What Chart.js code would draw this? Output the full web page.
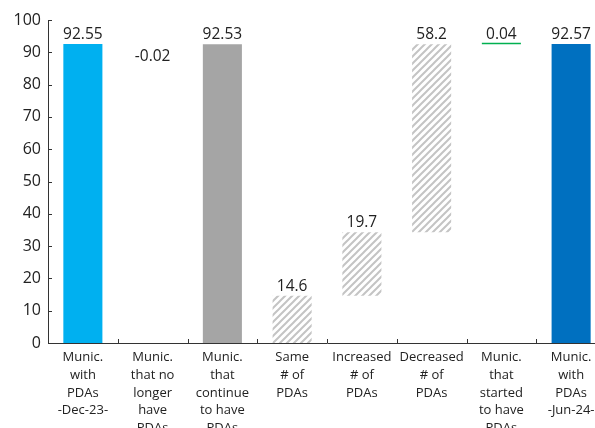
<!DOCTYPE html>
<html>
<head>
<meta charset="utf-8">
<script src="https://cdn.jsdelivr.net/npm/chart.js@4/dist/chart.umd.min.js"></script>
<style>
  html, body { margin: 0; padding: 0; background: #fff; width: 595px; height: 428px; overflow: hidden; }
  #wrap { position: absolute; left: 0; top: 0; width: 610px; height: 460px; }
</style>
</head>
<body>
<div id="wrap"><canvas id="c" width="610" height="460"></canvas></div>
<script>
// Waterfall of municipalities with PDAs (%), Dec-23 to Jun-24
const categories = [
  ["Munic.", "with", "PDAs", "-Dec-23-"],
  ["Munic.", "that no", "longer", "have", "PDAs"],
  ["Munic.", "that", "continue", "to have", "PDAs"],
  ["Same", "# of", "PDAs"],
  ["Increased", "# of", "PDAs"],
  ["Decreased", "# of", "PDAs"],
  ["Munic.", "that", "started", "to have", "PDAs"],
  ["Munic.", "with", "PDAs", "-Jun-24-"]
];
// change (or total) shown by each bar
const values = [92.55, -0.02, 92.53, 14.6, 19.7, 58.2, 0.04, 92.57];
// level each bar starts from
const bases = [0, 92.55, 0, 0, 14.6, 34.3, 92.53, 0];
const yTicks = [0, 10, 20, 30, 40, 50, 60, 70, 80, 90, 100];

function hatchPattern() {
  const s = 7;
  const c = document.createElement('canvas');
  c.width = s; c.height = s;
  const g = c.getContext('2d');
  g.fillStyle = '#ffffff';
  g.fillRect(0, 0, s, s);
  g.strokeStyle = '#c4c4c4';
  g.lineWidth = 2;
  g.beginPath();
  g.moveTo(-1, s + 1); g.lineTo(s + 1, -1);
  g.moveTo(-1, 1); g.lineTo(1, -1);
  g.moveTo(s - 1, s + 1); g.lineTo(s + 1, s - 1);
  g.stroke();
  return g.createPattern(c, 'repeat');
}
const hatch = hatchPattern();
const barColors = ['#00B0F0', 'rgba(255,0,0,0)', '#A5A5A5', hatch, hatch, hatch, '#00B050', '#0070C0'];

const TXT = '#222222';
const FONT = '"Open Sans", "Noto Sans", sans-serif';

// value labels above rising bars, below falling ones
const valueLabels = {
  id: 'valueLabels',
  afterDatasetsDraw(chart) {
    const { ctx } = chart;
    const ys = chart.scales.y;
    const meta = chart.getDatasetMeta(0);
    ctx.save();
    ctx.font = '15.5px ' + FONT;
    ctx.fillStyle = TXT;
    ctx.textAlign = 'center';
    ctx.textBaseline = 'alphabetic';
    meta.data.forEach((bar, i) => {
      const v = values[i];
      const hi = ys.getPixelForValue(Math.max(bases[i], bases[i] + v));
      const lo = ys.getPixelForValue(Math.min(bases[i], bases[i] + v));
      if (v >= 0) ctx.fillText(String(v), bar.x, hi - 5);
      else ctx.fillText(String(v), bar.x, lo + 17);
    });
    ctx.restore();
  }
};

// short inward tick marks on both axes
const innerTicks = {
  id: 'innerTicks',
  afterDraw(chart) {
    const { ctx, chartArea } = chart;
    const xs = chart.scales.x, ys = chart.scales.y;
    ctx.save();
    ctx.strokeStyle = '#333';
    ctx.lineWidth = 1;
    ctx.beginPath();
    ys.ticks.forEach(t => {
      const y = Math.round(ys.getPixelForValue(t.value)) + 0.5;
      ctx.moveTo(chartArea.left, y); ctx.lineTo(chartArea.left + 4, y);
    });
    for (let i = 0; i < categories.length - 1; i++) {
      const x = Math.round((xs.getPixelForValue(i) + xs.getPixelForValue(i + 1)) / 2) + 0.5;
      ctx.moveTo(x, chartArea.bottom); ctx.lineTo(x, chartArea.bottom - 4);
    }
    ctx.stroke();
    ctx.restore();
  }
};

new Chart(document.getElementById('c'), {
  type: 'bar',
  data: {
    labels: categories,
    datasets: [{
      data: values.map((v, i) => [bases[i], bases[i] + v]),
      backgroundColor: barColors,
      borderWidth: 0,
      barPercentage: 0.56,
      categoryPercentage: 1.0,
      minBarLength: 1.4
    }]
  },
  options: {
    responsive: false,
    animation: false,
    devicePixelRatio: 1,
    layout: { padding: { top: 20, right: 4, left: 0, bottom: 0 } },
    plugins: { legend: { display: false }, tooltip: { enabled: false }, title: { display: false } },
    scales: {
      x: {
        grid: { display: false, drawTicks: false },
        border: { display: true, color: '#333', width: 1 },
        ticks: {
          color: TXT,
          font: { family: FONT, size: 13, lineHeight: 1.35 },
          padding: 6,
          maxRotation: 0,
          autoSkip: false
        },
        afterFit(scale) { scale.height = 117; }
      },
      y: {
        min: 0,
        max: 100,
        afterBuildTicks(scale) { scale.ticks = yTicks.map(v => ({ value: v })); },
        grid: { display: false, drawTicks: false },
        border: { display: true, color: '#333', width: 1 },
        ticks: {
          color: TXT,
          font: { family: FONT, size: 16 },
          padding: 7
        },
        afterFit(scale) { scale.width = 48; }
      }
    }
  },
  plugins: [valueLabels, innerTicks]
});
</script>
</body>
</html>
